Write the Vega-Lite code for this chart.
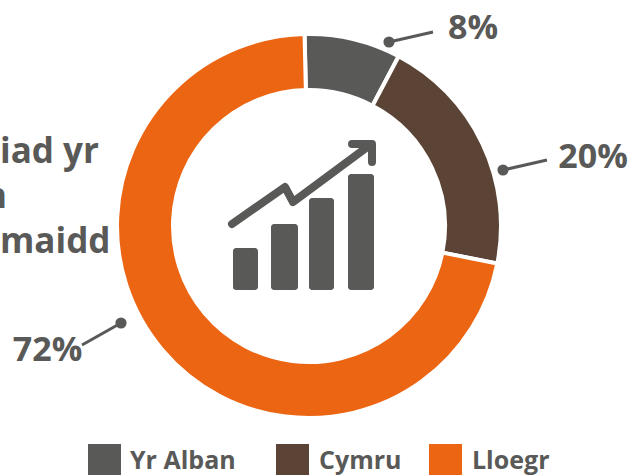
{"$schema":"https://vega.github.io/schema/vega-lite/v6.json","width":643,"height":475,"autosize":"none","padding":0,"background":"white",
"datasets":{
"slices":[{"gwlad":"Yr Alban","canran":8.1,"trefn":1},{"gwlad":"Cymru","canran":20.4,"trefn":2},{"gwlad":"Lloegr","canran":71.5,"trefn":3}],
"key":[{"gwlad":"Yr Alban","x":88,"x2":121,"y":444,"y2":475,"tx":130,"ty":469},{"gwlad":"Cymru","x":276,"x2":309,"y":444,"y2":475,"tx":319,"ty":469},{"gwlad":"Lloegr","x":429,"x2":462,"y":444,"y2":475,"tx":472,"ty":469}],
"leaders":[{"k":"8%","x":389,"y":42,"x2":433,"y2":32},{"k":"20%","x":503,"y":170,"x2":547,"y2":160},{"k":"72%","x":121,"y":323,"x2":82,"y2":345}],
"labels":[{"t":"8%","x":473,"y":39},{"t":"20%","x":593,"y":168},{"t":"72%","x":47.5,"y":361}],
"title":[{"t":"iad yr","x":0,"y":163},{"t":"n","x":-16,"y":208},{"t":"maidd","x":0,"y":253}],
"bars":[{"x":233,"x2":258,"y":248,"y2":290},{"x":271,"x2":298,"y":224,"y2":290},{"x":309,"x2":334,"y":198,"y2":290},{"x":348,"x2":374,"y":174,"y2":290}],
"arrow":[{"g":"a","i":1,"x":232,"y":224},{"g":"a","i":2,"x":285,"y":187},{"g":"a","i":3,"x":293,"y":202},{"g":"a","i":4,"x":370,"y":145},{"g":"b","i":1,"x":352,"y":144},{"g":"b","i":2,"x":372,"y":144},{"g":"b","i":3,"x":372,"y":162}]
},
"encoding":{"x":{"type":"quantitative","scale":{"domain":[0,643],"range":[0,643],"nice":false},"axis":null},"y":{"type":"quantitative","scale":{"domain":[0,475],"range":[0,475],"nice":false},"axis":null}},
"layer":[
{"data":{"name":"slices"},"mark":{"type":"arc","radius":192,"radius2":136,"stroke":"white","strokeWidth":4},
"encoding":{"x":{"datum":309,"type":"quantitative"},"y":{"datum":226,"type":"quantitative"},
"theta":{"field":"canran","type":"quantitative","stack":true,"scale":{"domain":[0,100],"range":[-0.023,6.26]}},
"order":{"field":"trefn"},
"color":{"field":"gwlad","type":"nominal","scale":{"domain":["Yr Alban","Cymru","Lloegr"],"range":["#595958","#5b4436","#ec6513"]},"legend":null}}},
{"data":{"name":"key"},"mark":{"type":"rect"},"encoding":{"x":{"field":"x","type":"quantitative"},"x2":{"field":"x2"},"y":{"field":"y","type":"quantitative"},"y2":{"field":"y2"},"color":{"field":"gwlad","type":"nominal","legend":null}}},
{"data":{"name":"key"},"mark":{"type":"text","color":"#595958","font":"Open Sans","fontWeight":"bold","fontSize":25,"align":"left","baseline":"alphabetic"},"encoding":{"x":{"field":"tx","type":"quantitative"},"y":{"field":"ty","type":"quantitative"},"text":{"field":"gwlad"}}},
{"data":{"name":"bars"},"mark":{"type":"rect","color":"#595958","cornerRadius":3},"encoding":{"x":{"field":"x","type":"quantitative"},"x2":{"field":"x2"},"y":{"field":"y","type":"quantitative"},"y2":{"field":"y2"}}},
{"data":{"name":"arrow"},"mark":{"type":"line","color":"#595958","strokeWidth":8,"strokeCap":"round","strokeJoin":"round"},"encoding":{"x":{"field":"x","type":"quantitative"},"y":{"field":"y","type":"quantitative"},"detail":{"field":"g"},"order":{"field":"i"}}},
{"data":{"name":"leaders"},"mark":{"type":"rule","color":"#595958","strokeWidth":3},"encoding":{"x":{"field":"x","type":"quantitative"},"y":{"field":"y","type":"quantitative"},"x2":{"field":"x2"},"y2":{"field":"y2"}}},
{"data":{"name":"leaders"},"mark":{"type":"circle","color":"#595958","opacity":1,"size":125},"encoding":{"x":{"field":"x","type":"quantitative"},"y":{"field":"y","type":"quantitative"}}},
{"data":{"name":"labels"},"mark":{"type":"text","color":"#595958","font":"Open Sans","fontWeight":"bold","fontSize":34,"align":"center","baseline":"alphabetic"},"encoding":{"x":{"field":"x","type":"quantitative"},"y":{"field":"y","type":"quantitative"},"text":{"field":"t"}}},
{"data":{"name":"title"},"mark":{"type":"text","color":"#595958","font":"Open Sans","fontWeight":"bold","fontSize":35,"align":"left","baseline":"alphabetic"},"encoding":{"x":{"field":"x","type":"quantitative"},"y":{"field":"y","type":"quantitative"},"text":{"field":"t"}}}
],
"config":{"view":{"stroke":null}}}
